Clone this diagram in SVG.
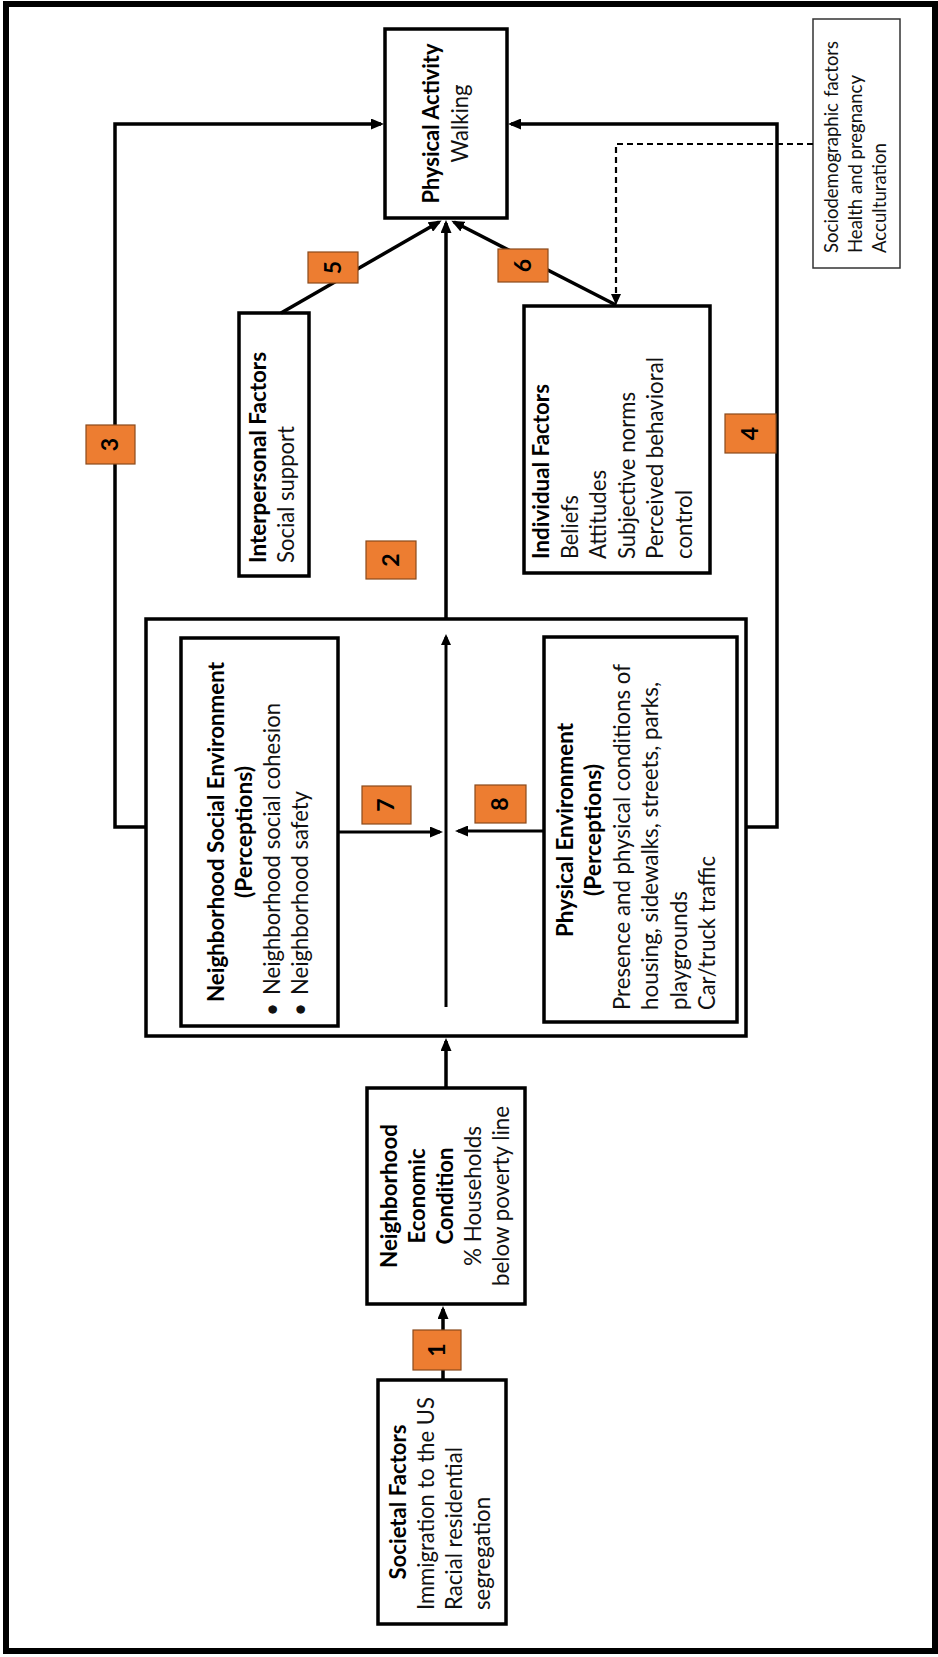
<svg xmlns="http://www.w3.org/2000/svg" width="938" height="1657" viewBox="0 0 938 1657">
  <defs>
    <marker id="arrow" markerUnits="userSpaceOnUse" markerWidth="13" markerHeight="11" refX="10" refY="5.5" orient="auto">
      <path d="M0,0 L13,5.5 L0,11 z" fill="#000"/>
    </marker>
    <marker id="arrowSmall" markerUnits="userSpaceOnUse" markerWidth="11" markerHeight="10" refX="8" refY="5" orient="auto">
      <path d="M0,0 L11,5 L0,10 z" fill="#000"/>
    </marker>
  </defs>
  <style>
    .box { fill: #fff; stroke: #000; stroke-width: 3.5; }
    .thin { fill: #fff; stroke: #333; stroke-width: 1.5; }
    .badge { fill: #ED7D31; stroke: #8a4a1c; stroke-width: 1.2; }
    .num { font-family: Lato, "Open Sans", sans-serif; font-weight: 700; font-size: 23px; fill: #000; text-anchor: middle; }
    .t { font-family: Lato, "Open Sans", sans-serif; font-size: 22.5px; fill: #111; }
    .b { font-weight: 700; fill: #000; }
    .mid { text-anchor: middle; }
    .end { text-anchor: end; }
    .small { font-size: 19px; }
    .line { fill: none; stroke: #000; stroke-width: 3.5; }
    .inner { fill: none; stroke: #000; stroke-width: 3; }
    .dash { fill: none; stroke: #000; stroke-width: 2.2; stroke-dasharray: 6 4; }
  </style>

  <rect x="6" y="4" width="929" height="1647" fill="#fff" stroke="#000" stroke-width="6"/>

  <!-- Physical Activity -->
  <g id="physical-activity">
    <rect class="box" x="385" y="29" width="122" height="189"/>
    <text class="t b mid" transform="translate(439,123.5) rotate(-90)" textLength="160" lengthAdjust="spacingAndGlyphs">Physical Activity</text>
    <text class="t mid" transform="translate(468,123.5) rotate(-90)" textLength="78" lengthAdjust="spacingAndGlyphs">Walking</text>
  </g>

  <!-- Sociodemographic covariates (first line is justified across the box) -->
  <g id="covariates">
    <rect class="thin" x="813" y="19" width="87" height="249"/>
    <text class="t small" transform="translate(838,253) rotate(-90)" textLength="150" lengthAdjust="spacingAndGlyphs">Sociodemographic</text>
    <text class="t small end" transform="translate(838,41) rotate(-90)" textLength="56" lengthAdjust="spacingAndGlyphs">factors</text>
    <text class="t small" transform="translate(862,253) rotate(-90)" textLength="178" lengthAdjust="spacingAndGlyphs">Health and pregnancy</text>
    <text class="t small" transform="translate(886,253) rotate(-90)" textLength="110" lengthAdjust="spacingAndGlyphs">Acculturation</text>
  </g>

  <!-- Interpersonal Factors -->
  <g id="interpersonal">
    <rect class="box" x="239" y="313" width="70" height="263"/>
    <text class="t b" transform="translate(266,563) rotate(-90)" textLength="211" lengthAdjust="spacingAndGlyphs">Interpersonal Factors</text>
    <text class="t" transform="translate(294,563) rotate(-90)" textLength="137" lengthAdjust="spacingAndGlyphs">Social support</text>
  </g>

  <!-- Individual Factors -->
  <g id="individual">
    <rect class="box" x="524" y="306" width="186" height="267"/>
    <text class="t b" transform="translate(549,559) rotate(-90)" textLength="175" lengthAdjust="spacingAndGlyphs">Individual Factors</text>
    <text class="t" transform="translate(578,559) rotate(-90)" textLength="64" lengthAdjust="spacingAndGlyphs">Beliefs</text>
    <text class="t" transform="translate(606,559) rotate(-90)" textLength="89" lengthAdjust="spacingAndGlyphs">Attitudes</text>
    <text class="t" transform="translate(635,559) rotate(-90)" textLength="167" lengthAdjust="spacingAndGlyphs">Subjective norms</text>
    <text class="t" transform="translate(663,559) rotate(-90)" textLength="202" lengthAdjust="spacingAndGlyphs">Perceived behavioral</text>
    <text class="t" transform="translate(692,559) rotate(-90)" textLength="69" lengthAdjust="spacingAndGlyphs">control</text>
  </g>

  <!-- Neighborhood environment (outer) -->
  <g id="neighborhood-environment">
    <rect class="box" x="146" y="619" width="600" height="417"/>
  </g>

  <!-- Neighborhood Social Environment -->
  <g id="social-environment">
    <rect class="box" x="181" y="638" width="157" height="388"/>
    <text class="t b mid" transform="translate(224,832) rotate(-90)" textLength="340" lengthAdjust="spacingAndGlyphs">Neighborhood Social Environment</text>
    <text class="t b mid" transform="translate(252,832) rotate(-90)" textLength="132" lengthAdjust="spacingAndGlyphs">(Perceptions)</text>
    <text class="t" transform="translate(280,1016) rotate(-90)">•</text>
    <text class="t" transform="translate(280,995) rotate(-90)" textLength="292" lengthAdjust="spacingAndGlyphs">Neighborhood social cohesion</text>
    <text class="t" transform="translate(308,1016) rotate(-90)">•</text>
    <text class="t" transform="translate(308,995) rotate(-90)" textLength="204" lengthAdjust="spacingAndGlyphs">Neighborhood safety</text>
  </g>

  <!-- Physical Environment -->
  <g id="physical-environment">
    <rect class="box" x="544" y="637" width="193" height="385"/>
    <text class="t b mid" transform="translate(573,830) rotate(-90)" textLength="214" lengthAdjust="spacingAndGlyphs">Physical Environment</text>
    <text class="t b mid" transform="translate(601,830) rotate(-90)" textLength="132" lengthAdjust="spacingAndGlyphs">(Perceptions)</text>
    <text class="t" transform="translate(630,1010) rotate(-90)" textLength="346" lengthAdjust="spacingAndGlyphs">Presence and physical conditions of</text>
    <text class="t" transform="translate(658,1010) rotate(-90)" textLength="328" lengthAdjust="spacingAndGlyphs">housing, sidewalks, streets, parks,</text>
    <text class="t" transform="translate(687,1010) rotate(-90)" textLength="119" lengthAdjust="spacingAndGlyphs">playgrounds</text>
    <text class="t" transform="translate(715,1010) rotate(-90)" textLength="154" lengthAdjust="spacingAndGlyphs">Car/truck traffic</text>
  </g>

  <!-- Neighborhood Economic Condition -->
  <g id="economic-condition">
    <rect class="box" x="367" y="1088" width="158" height="216"/>
    <text class="t b mid" transform="translate(397,1196) rotate(-90)" textLength="144" lengthAdjust="spacingAndGlyphs">Neighborhood</text>
    <text class="t b mid" transform="translate(425,1196) rotate(-90)" textLength="95" lengthAdjust="spacingAndGlyphs">Economic</text>
    <text class="t b mid" transform="translate(453,1196) rotate(-90)" textLength="97" lengthAdjust="spacingAndGlyphs">Condition</text>
    <text class="t mid" transform="translate(481,1196) rotate(-90)" textLength="140" lengthAdjust="spacingAndGlyphs">% Households</text>
    <text class="t mid" transform="translate(509,1196) rotate(-90)" textLength="180" lengthAdjust="spacingAndGlyphs">below poverty line</text>
  </g>

  <!-- Societal Factors -->
  <g id="societal">
    <rect class="box" x="378" y="1380" width="128" height="244"/>
    <text class="t b mid" transform="translate(406,1502) rotate(-90)" textLength="155" lengthAdjust="spacingAndGlyphs">Societal Factors</text>
    <text class="t" transform="translate(434,1610) rotate(-90)" textLength="213" lengthAdjust="spacingAndGlyphs">Immigration to the US</text>
    <text class="t" transform="translate(462,1610) rotate(-90)" textLength="163" lengthAdjust="spacingAndGlyphs">Racial residential</text>
    <text class="t" transform="translate(490,1610) rotate(-90)" textLength="113" lengthAdjust="spacingAndGlyphs">segregation</text>
  </g>

  <!-- connectors -->
  <g id="connectors">
    <path class="line" d="M146,827 H115 V124 H381" marker-end="url(#arrow)"/>
    <path class="line" d="M746,827 H777 V124 H511" marker-end="url(#arrow)"/>
    <path class="dash" d="M813,144 H616 V302" marker-end="url(#arrowSmall)"/>
    <path class="line" d="M281,313 L439,222" marker-end="url(#arrow)"/>
    <path class="line" d="M616,305 L454,222" marker-end="url(#arrow)"/>
    <path class="line" d="M446,619 V223" marker-end="url(#arrow)"/>
    <path class="inner" d="M446,1007 V637" marker-end="url(#arrowSmall)"/>
    <path class="inner" d="M338,832 H440" marker-end="url(#arrow)"/>
    <path class="inner" d="M543,831 H458" marker-end="url(#arrow)"/>
    <path class="line" d="M446,1088 V1041" marker-end="url(#arrow)"/>
    <path class="line" d="M443,1380 V1309" marker-end="url(#arrow)"/>
  </g>

  <!-- numbered path labels -->
  <g id="badge-1"><rect class="badge" x="413" y="1330" width="48" height="40"/><text class="num" transform="translate(445,1350) rotate(-90)">1</text></g>
  <g id="badge-2"><rect class="badge" x="366" y="541" width="50" height="38"/><text class="num" transform="translate(399,560) rotate(-90)">2</text></g>
  <g id="badge-3"><rect class="badge" x="86" y="425" width="49" height="39"/><text class="num" transform="translate(118,444.5) rotate(-90)">3</text></g>
  <g id="badge-4"><rect class="badge" x="725" y="414" width="51" height="39"/><text class="num" transform="translate(758,433.5) rotate(-90)">4</text></g>
  <g id="badge-5"><rect class="badge" x="308" y="252" width="50" height="31"/><text class="num" transform="translate(341,267.5) rotate(-90)">5</text></g>
  <g id="badge-6"><rect class="badge" x="498" y="249" width="50" height="33"/><text class="num" transform="translate(531,265.5) rotate(-90)">6</text></g>
  <g id="badge-7"><rect class="badge" x="362" y="786" width="49" height="38"/><text class="num" transform="translate(394,805) rotate(-90)">7</text></g>
  <g id="badge-8"><rect class="badge" x="475" y="785" width="51" height="38"/><text class="num" transform="translate(508,804) rotate(-90)">8</text></g>
</svg>
